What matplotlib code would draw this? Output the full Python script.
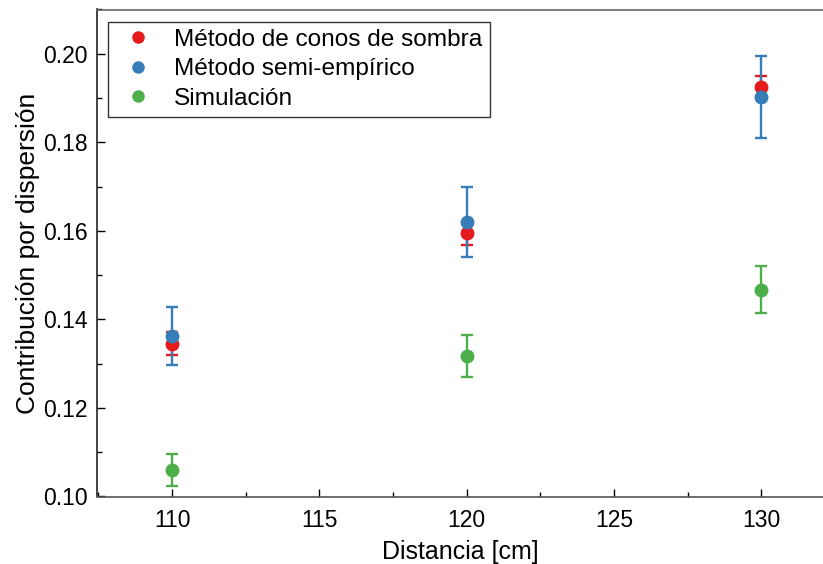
import matplotlib.pyplot as plt
from matplotlib.ticker import MultipleLocator

plt.rcParams['font.family'] = ['Liberation Sans', 'DejaVu Sans']

# distancia [cm]
distancia = [110, 120, 130]

conos = [0.1345, 0.1595, 0.1924]
conos_err = [0.0026, 0.0028, 0.0025]

semi = [0.1362, 0.1621, 0.1903]
semi_err = [0.0066, 0.0079, 0.0093]

sim = [0.1060, 0.1317, 0.1467]
sim_err = [0.0037, 0.0048, 0.0053]

labels = ['Método de conos de sombra', 'Método semi-empírico', 'Simulación']
colores = ['#e41a1c', '#377eb8', '#4daf4a']

fig = plt.figure(figsize=(8.23, 5.64), dpi=100)
ax = fig.add_axes([97 / 823, (564 - 496.5) / 564, (823 - 97) / 823, 487 / 564])

for y, err, lab, c in zip([conos, semi, sim], [conos_err, semi_err, sim_err], labels, colores):
    ax.errorbar(distancia, y, yerr=err, fmt='o', color=c, ms=9, elinewidth=1.7,
                capsize=4.5, capthick=1.7, label=lab)

ax.set_xlim(107.45, 132.1)
ax.set_ylim(0.10, 0.21)
ax.xaxis.set_major_locator(MultipleLocator(5))
ax.xaxis.set_minor_locator(MultipleLocator(2.5))
ax.yaxis.set_major_locator(MultipleLocator(0.02))
ax.yaxis.set_minor_locator(MultipleLocator(0.01))
ax.yaxis.set_major_formatter(plt.FormatStrFormatter('%.2f'))
ax.tick_params(which='both', direction='in', labelsize=16.5, width=1)
ax.tick_params(which='major', length=6)
ax.tick_params(which='minor', length=3.5)
ax.tick_params(axis='x', pad=9)
ax.tick_params(axis='y', pad=7)

ax.spines['right'].set_visible(False)
ax.spines['left'].set_color('#222222')
ax.spines['bottom'].set_color('#555555')
ax.spines['top'].set_color('#666666')
for s in ax.spines.values():
    s.set_linewidth(1.2)

ax.set_xlabel('Distancia [cm]', fontsize=18, labelpad=6)
ax.set_ylabel('Contribución por dispersión', fontsize=19, labelpad=2)

leg_handles = [plt.Line2D([], [], marker='o', ls='none', color=c, ms=8) for c in colores]
leg = ax.legend(leg_handles, labels, loc='upper left', fontsize=17.6, frameon=True,
                fancybox=False, edgecolor='black', handletextpad=0.55,
                borderaxespad=0.0, labelspacing=0.3, handlelength=1.85,
                borderpad=0.3, bbox_to_anchor=(11 / 726, (487 - 12) / 487))
leg.get_frame().set_linewidth(1.0)

fig.savefig('out.png', dpi=100)
